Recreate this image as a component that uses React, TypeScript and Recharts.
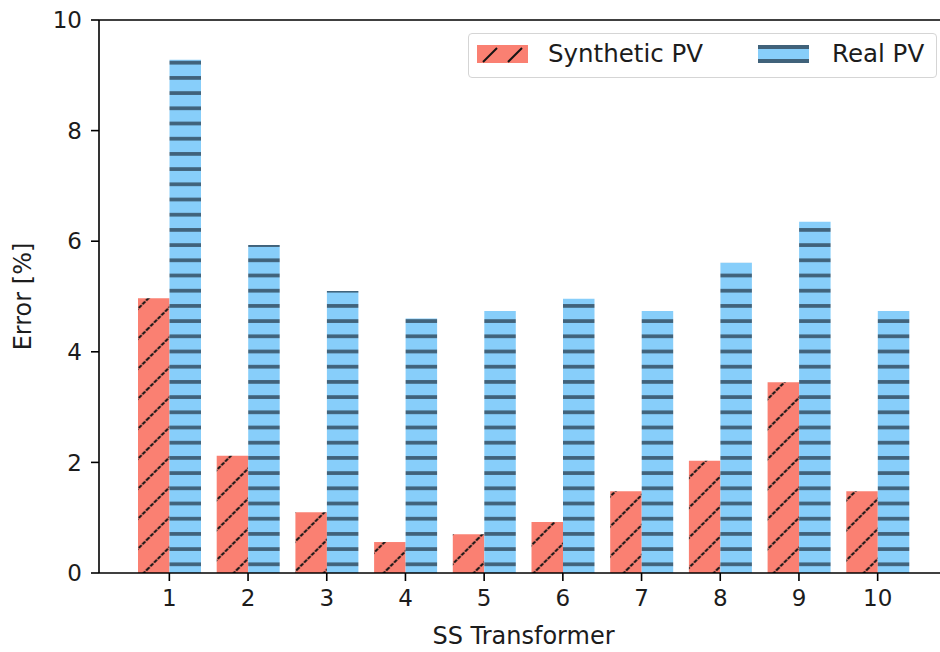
import React from 'react';
import { BarChart, Bar, XAxis, YAxis, ReferenceLine } from 'recharts';

// Categories and per-transformer error values (%)
const transformers = ['1', '2', '3', '4', '5', '6', '7', '8', '9', '10'];
const syntheticPV = [4.97, 2.12, 1.1, 0.56, 0.7, 0.92, 1.48, 2.03, 3.45, 1.48];
const realPV = [9.28, 5.93, 5.1, 4.6, 4.74, 4.96, 4.74, 5.61, 6.35, 4.74];
const yTicks = [0, 2, 4, 6, 8, 10];
const seriesNames = ['Synthetic PV', 'Real PV'];

const data = transformers.map((t, i) => ({
  name: t,
  synthetic: syntheticPV[i],
  real: realPV[i],
}));

const FONT = '"DejaVu Sans", Verdana, sans-serif';
const SALMON = '#fa8072';
const SKY = '#87cefa';
const HATCH_BLUE = '#40627a';
const TEXT = '#1c1c1c';

function HatchDefs({ prefix }: { prefix: string }) {
  return (
    <defs>
      <pattern
        id={`${prefix}-diag`}
        patternUnits="userSpaceOnUse"
        width={30}
        height={30}
        x={26.7}
        y={0}
      >
        <rect x={0} y={0} width={30} height={30} fill={SALMON} />
        <line x1={0} y1={30} x2={30} y2={0} stroke="#141414" strokeWidth={2} strokeDasharray="4 1.2" />
        <line x1={-2} y1={2} x2={2} y2={-2} stroke="#141414" strokeWidth={2} />
        <line x1={28} y1={32} x2={32} y2={28} stroke="#141414" strokeWidth={2} />
      </pattern>
      <pattern
        id={`${prefix}-horiz`}
        patternUnits="userSpaceOnUse"
        width={30}
        height={15.2}
        x={0}
        y={0}
      >
        <rect x={0} y={0} width={30} height={15.2} fill={SKY} />
        <rect x={0} y={0.05} width={30} height={3.7} fill={HATCH_BLUE} />
      </pattern>
    </defs>
  );
}

function LegendBox() {
  return (
    <div
      style={{
        position: 'absolute',
        left: 468,
        top: 33,
        width: 467,
        height: 43,
        border: '1px solid #d5d5d5',
        borderRadius: 4,
        background: 'rgba(255,255,255,0.85)',
        fontFamily: FONT,
        fontSize: 24.5,
        color: TEXT,
      }}
    >
      <svg width={60} height={20} style={{ position: 'absolute', left: 8, top: 11 }}>
        <rect x={0} y={0} width={51} height={18} fill={SALMON} />
        <line x1={6} y1={17} x2={20} y2={3} stroke="#141414" strokeWidth={2} />
        <line x1={31} y1={17} x2={45} y2={3} stroke="#141414" strokeWidth={2} />
      </svg>
      <span style={{ position: 'absolute', left: 79, top: 5, lineHeight: '30px' }}>{seriesNames[0]}</span>
      <svg width={60} height={20} style={{ position: 'absolute', left: 289, top: 11 }}>
        <rect x={0} y={0} width={51} height={18} fill={SKY} />
        <rect x={0} y={0} width={51} height={4} fill={HATCH_BLUE} />
        <rect x={0} y={14} width={51} height={4} fill={HATCH_BLUE} />
      </svg>
      <span style={{ position: 'absolute', left: 363, top: 5, lineHeight: '30px' }}>{seriesNames[1]}</span>
    </div>
  );
}

export default function App() {
  return (
    <div
      style={{
        position: 'absolute',
        left: 0,
        top: 0,
        width: 940,
        height: 652,
        overflow: 'hidden',
        background: '#fff',
      }}
    >
      <BarChart
        width={960}
        height={652}
        data={data}
        margin={{ top: 20, right: 12, bottom: 0, left: 0 }}
        barGap={0}
        barSize={31.5}
      >
        <HatchDefs prefix="bar" />
        <XAxis
          dataKey="name"
          height={79}
          padding={{ left: 31, right: 31 }}
          tickLine={{ stroke: '#000', strokeWidth: 1.6 }}
          axisLine={{ stroke: '#000', strokeWidth: 1.6 }}
          tickSize={8}
          tickMargin={9}
          tick={{ fill: TEXT, fontSize: 23, fontFamily: FONT }}
          label={{
            value: 'SS Transformer',
            position: 'insideBottom',
            offset: 8,
            fill: TEXT,
            fontSize: 24,
            fontFamily: FONT,
          }}
        />
        <YAxis
          width={99}
          domain={[0, 10]}
          ticks={yTicks}
          allowDataOverflow
          tickLine={{ stroke: '#000', strokeWidth: 1.6 }}
          axisLine={{ stroke: '#000', strokeWidth: 1.6 }}
          tickSize={8}
          tickMargin={9}
          tick={{ fill: TEXT, fontSize: 23, fontFamily: FONT }}
          label={{
            value: 'Error [%]',
            angle: -90,
            position: 'insideLeft',
            offset: 22,
            style: { textAnchor: 'middle' },
            fill: TEXT,
            fontSize: 24,
            fontFamily: FONT,
          }}
        />
        <ReferenceLine y={10} stroke="#000" strokeWidth={1.6} ifOverflow="visible" />
        <Bar dataKey="synthetic" name={seriesNames[0]} fill="url(#bar-diag)" isAnimationActive={false} />
        <Bar dataKey="real" name={seriesNames[1]} fill="url(#bar-horiz)" isAnimationActive={false} />
      </BarChart>
      <LegendBox />
    </div>
  );
}
